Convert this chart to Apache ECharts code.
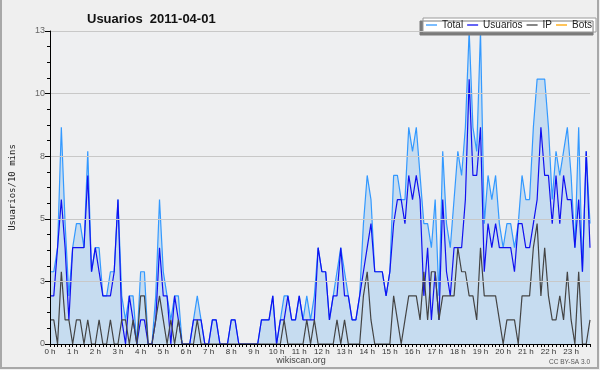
<!DOCTYPE html>
<html><head><meta charset="utf-8">
<script src="https://cdn.jsdelivr.net/npm/echarts@6/dist/echarts.min.js"></script>
<style>html,body{margin:0;padding:0;background:#efefef}#c{width:600px;height:370px}</style>
</head><body><div id="c"></div>
<script>
const hourLabels = ['0 h','1 h','2 h','3 h','4 h','5 h','6 h','7 h','8 h','9 h','10 h','11 h',
  '12 h','13 h','14 h','15 h','16 h','17 h','18 h','19 h','20 h','21 h','22 h','23 h'];
const yTickLabels = ['0','3','5','8','10','13'];
const seriesNames = ['Total','Usuarios','IP','Bots'];

const total = [
  3,3,4,9,5,2,  4,5,5,4,8,3,  4,4,2,2,3,3,  6,2,1,2,2,0,
  3,3,0,0,2,6,  3,2,1,2,2,0,  0,0,1,2,1,0,  0,1,1,0,0,0,
  1,1,0,0,0,0,  0,0,1,1,1,2,  0,1,2,2,1,1,  2,1,2,1,2,4,
  3,3,1,2,3,4,  3,2,1,1,2,5,  7,6,3,3,3,2,  3,7,7,6,6,9,
  8,9,7,5,5,4,  6,2,8,5,4,6,  8,7,9,13,9,8, 13,5,7,6,7,5,
  4,5,5,4,5,7,  6,6,9,11,11,11, 9,6,8,7,8,9, 7,4,9,3,8,5
];
const usuarios = [
  2,2,4,6,4,1,  4,4,4,4,7,3,  4,3,2,2,2,3,  6,1,0,2,1,0,
  1,1,0,0,1,4,  2,2,0,2,1,0,  0,0,1,1,1,0,  0,1,1,0,0,0,
  1,1,0,0,0,0,  0,0,1,1,1,2,  0,1,1,2,1,1,  2,1,1,1,1,4,
  3,3,1,2,2,4,  2,2,1,1,2,3,  4,5,3,3,3,2,  3,5,6,6,5,7,
  6,7,6,2,4,1,  3,1,6,3,2,4,  4,4,6,11,7,7, 9,3,5,4,5,4,
  4,4,4,3,5,5,  4,4,5,6,9,7,  7,5,7,5,7,6,  6,4,6,3,8,4
];
const ip = [
  1,1,0,3,1,1,  0,1,1,0,1,0,  0,1,0,0,1,0,  0,1,1,0,1,0,
  2,2,0,0,1,2,  1,0,1,0,1,0,  0,0,0,1,0,0,  0,0,0,0,0,0,
  0,0,0,0,0,0,  0,0,0,0,0,0,  0,0,1,0,0,0,  0,0,1,0,1,0,
  0,0,0,0,1,0,  1,0,0,0,0,2,  3,1,0,0,0,0,  0,2,1,0,1,2,
  2,2,1,3,1,3,  3,1,2,2,2,2,  4,3,3,2,2,1,  4,2,2,2,2,1,
  0,1,1,1,0,2,  2,2,4,5,2,4,  2,1,1,2,1,3,  1,0,3,0,0,1
];
const bots = [
  0,0,0,0,0,0,  0,0,0,0,0,0,  0,0,0,0,0,0,  0,0,0,0,0,0,
  0,0,0,0,0,0,  0,0,0,0,0,0,  0,0,0,0,0,0,  0,0,0,0,0,0,
  0,0,0,0,0,0,  0,0,0,0,0,0,  0,0,0,0,0,0,  0,0,0,0,0,0,
  0,0,0,0,0,0,  0,0,0,0,0,0,  0,0,0,0,0,0,  0,0,0,0,0,0,
  0,0,0,0,0,0,  0,0,0,0,0,0,  0,0,0,0,0,0,  0,0,0,0,0,0,
  0,0,0,0,0,0,  0,0,0,0,0,0,  0,0,0,0,0,0,  0,0,0,0,0,0
];

// 10-minute slots for the day
const categories = [];
hourLabels.forEach((hl, h) => { for (let m = 0; m < 6; m++) categories.push(h + ':' + m + '0'); });

const chart = echarts.init(document.getElementById('c'), null, {renderer: 'canvas'});
const lineSeries = (name, data, color, extra) => Object.assign({
  type: 'line', name: name, data: data, symbol: 'none', showSymbol: false,
  lineStyle: {color: color, width: 1.2}, itemStyle: {color: color},
  emphasis: {disabled: true}, z: 2
}, extra || {});

chart.setOption({
  animation: false,
  backgroundColor: '#efefef',
  title: {
    text: 'Usuarios  2011-04-01', left: 82, top: 8,
    textStyle: {fontFamily: 'Liberation Sans', fontWeight: 'bold', fontSize: 13, color: '#111'}
  },
  legend: {
    data: seriesNames, left: 423, top: 18, orient: 'horizontal',
    icon: 'rect', itemWidth: 11, itemHeight: 1.3, itemGap: 4,
    padding: [2, 4, 2, 3],
    backgroundColor: '#ffffff', borderColor: '#9a9a9a', borderWidth: 1,
    shadowColor: '#7a7a7a', shadowBlur: 0, shadowOffsetX: -3, shadowOffsetY: 3,
    textStyle: {fontFamily: 'Liberation Sans', fontSize: 10, color: '#222'},
    selectedMode: false
  },
  grid: {left: 46, right: 10, top: 31, bottom: 26, show: true, backgroundColor: '#eeeff1', borderWidth: 0},
  xAxis: {
    type: 'category', data: categories, boundaryGap: false, z: 10,
    axisLine: {show: true, lineStyle: {color: '#000', width: 1}},
    axisTick: {show: true, interval: 0, length: 3, lineStyle: {color: '#000'}},
    axisLabel: {
      interval: (i) => i % 6 === 0, margin: 4, hideOverlap: false,
      formatter: (v, i) => hourLabels[Math.floor(i / 6)],
      fontFamily: 'Liberation Sans', fontSize: 8, color: '#333'
    },
    splitLine: {show: false}
  },
  yAxis: {
    type: 'value', min: 0, max: 13, interval: 2.6, z: 10,
    name: 'Usuarios/10 mins', nameLocation: 'middle', nameGap: 33, nameRotate: 90,
    nameTextStyle: {fontFamily: 'DejaVu Sans Mono', fontSize: 9, color: '#222'},
    axisLine: {show: true, lineStyle: {color: '#000', width: 1}},
    axisTick: {show: true, length: 5, lineStyle: {color: '#000'}},
    minorTick: {show: true, splitNumber: 4, length: 3, lineStyle: {color: '#000'}},
    axisLabel: {
      formatter: v => yTickLabels[Math.round(v / 2.6)], margin: 5,
      fontFamily: 'Liberation Sans', fontSize: 9, color: '#666'
    },
    splitLine: {show: true, lineStyle: {color: '#c8c8c8', width: 1}}
  },
  series: [
    lineSeries('Total', total, '#3399ff', {areaStyle: {color: '#c6dcf0', opacity: 1}}),
    lineSeries('Usuarios', usuarios, '#1010f0'),
    lineSeries('IP', ip, '#444444'),
    lineSeries('Bots', bots, '#ffa500', {z: 1})
  ],
  graphic: [
    {type: 'text', x: 301, y: 361, silent: true,
     style: {text: 'wikiscan.org', align: 'center', verticalAlign: 'middle',
             font: '9px "Liberation Sans"', fill: '#444'}},
    {type: 'text', x: 590, y: 362, silent: true,
     style: {text: 'CC BY-SA 3.0', align: 'right', verticalAlign: 'middle',
             font: '6.5px "Liberation Sans"', fill: '#555'}},
    {type: 'polyline', silent: true,
     shape: {points: [[1, 0], [1, 368], [598, 368], [598, 0]]},
     style: {stroke: '#a8a8a8', lineWidth: 2, fill: null}}
  ]
});
</script>
</body></html>
